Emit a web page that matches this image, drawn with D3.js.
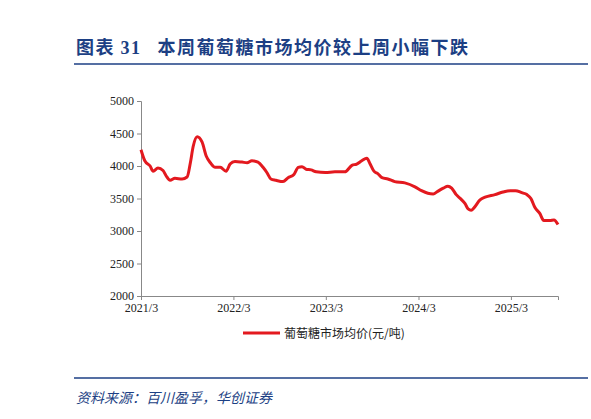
<!DOCTYPE html>
<html><head><meta charset="utf-8">
<script src="https://cdn.jsdelivr.net/npm/d3@7"></script>
<style>body{margin:0;background:#fff;font-family:"Noto Sans CJK SC",sans-serif}</style>
</head><body><div id="chart"></div>
<script>
// Weekly glucose market average price (yuan/ton)
var dates = ["2021-03-01","2021-03-16","2021-04-06","2021-04-18","2021-05-07","2021-05-27","2021-06-08","2021-06-24",
  "2021-07-13","2021-08-10","2021-08-30","2021-09-12","2021-09-23","2021-10-09","2021-10-28","2021-11-14","2021-11-30",
  "2021-12-19","2022-01-08","2022-01-31","2022-02-16","2022-03-07","2022-04-04","2022-04-24","2022-05-13","2022-06-06",
  "2022-06-26","2022-07-11","2022-07-27","2022-08-16","2022-09-13","2022-10-03","2022-10-26","2022-11-12","2022-11-27",
  "2022-12-13","2023-01-02","2023-01-22","2023-02-27","2023-04-06","2023-05-15","2023-06-12","2023-07-01","2023-07-21",
  "2023-08-10","2023-08-22","2023-09-07","2023-09-23","2023-10-09","2023-11-01","2023-11-28","2024-01-07","2024-02-16",
  "2024-03-13","2024-04-07","2024-04-28","2024-05-16","2024-06-07","2024-06-25","2024-07-10","2024-07-28","2024-08-16",
  "2024-09-01","2024-09-13","2024-09-25","2024-10-07","2024-10-30","2024-11-19","2024-12-28","2025-01-29","2025-02-26",
  "2025-03-19","2025-04-13","2025-05-03","2025-05-19","2025-06-04","2025-06-23","2025-07-09","2025-08-02","2025-08-18","2025-09-03"];
var prices = [4250,4080,4000,3920,3970,3930,3850,3780,3810,3800,3830,4050,4300,4450,4370,4150,4050,3980,3980,3920,4030,
  4070,4060,4050,4080,4060,3980,3900,3800,3780,3760,3820,3870,3980,3990,3950,3940,3910,3900,3910,3910,4010,4030,4080,
  4120,4040,3920,3880,3820,3800,3760,3740,3680,3620,3580,3570,3610,3660,3690,3660,3560,3490,3420,3340,3320,3360,3480,
  3520,3560,3600,3620,3620,3590,3560,3500,3360,3270,3160,3160,3170,3100];
var xTicks = ["2021-03-01","2022-03-01","2023-03-01","2024-03-01","2025-03-01"];
var yTicks = [2000,2500,3000,3500,4000,4500,5000];
var seriesName = "葡萄糖市场均价(元/吨)";

var W = 591, H = 419, blue = "#1c3f84", red = "#e3191f";
var parse = d3.timeParse("%Y-%m-%d");
var data = dates.map(function (d, i) { return { d: parse(d), v: prices[i] }; });

var svg = d3.select("#chart").append("svg").attr("width", W).attr("height", H);

// Title
var title = svg.append("text").attr("x", 76).attr("y", 54).attr("fill", blue)
  .attr("font-size", 18).attr("font-weight", "bold").attr("letter-spacing", 1.5);
title.append("tspan").text("图表 ");
title.append("tspan").attr("font-family", "Liberation Serif, serif").text("31");
title.append("tspan").attr("dx", 16).text("本周葡萄糖市场均价较上周小幅下跌");
svg.append("line").attr("x1", 74).attr("x2", 588).attr("y1", 64).attr("y2", 64)
  .attr("stroke", blue).attr("stroke-width", 1.5);

var x = d3.scaleTime().domain([parse("2021-03-01"), parse("2025-09-03")]).range([141, 558]);
var y = d3.scaleLinear().domain([2000, 5000]).range([296, 101]);

var gx = svg.append("g").attr("transform", "translate(0,296)")
  .call(d3.axisBottom(x).tickValues(xTicks.map(parse)).tickFormat(d3.timeFormat("%Y/%-m")).tickSize(4));
var gy = svg.append("g").attr("transform", "translate(141,0)")
  .call(d3.axisLeft(y).tickValues(yTicks).tickFormat(d3.format("d")).tickSize(4));
[gx, gy].forEach(function (g) {
  g.selectAll("path,line").attr("stroke", "#888");
  g.selectAll("text").attr("font-family", "Times New Roman, Liberation Serif, serif")
    .attr("font-size", 12).attr("fill", "#222");
});

svg.append("path").datum(data)
  .attr("fill", "none").attr("stroke", red).attr("stroke-width", 3)
  .attr("d", d3.line().x(function (d) { return x(d.d); }).y(function (d) { return y(d.v); })
    .curve(d3.curveMonotoneX));

// Legend
svg.append("line").attr("x1", 243).attr("x2", 280).attr("y1", 333).attr("y2", 333)
  .attr("stroke", red).attr("stroke-width", 3);
svg.append("text").attr("x", 284).attr("y", 338).attr("font-size", 12).attr("fill", "#222").text(seriesName);

// Footer
svg.append("line").attr("x1", 74).attr("x2", 588).attr("y1", 378).attr("y2", 378)
  .attr("stroke", blue).attr("stroke-width", 1.5);
svg.append("text").attr("x", 76).attr("y", 403).attr("font-size", 14).attr("font-style", "italic")
  .attr("fill", blue).text("资料来源：百川盈孚，华创证券");
</script></body></html>
